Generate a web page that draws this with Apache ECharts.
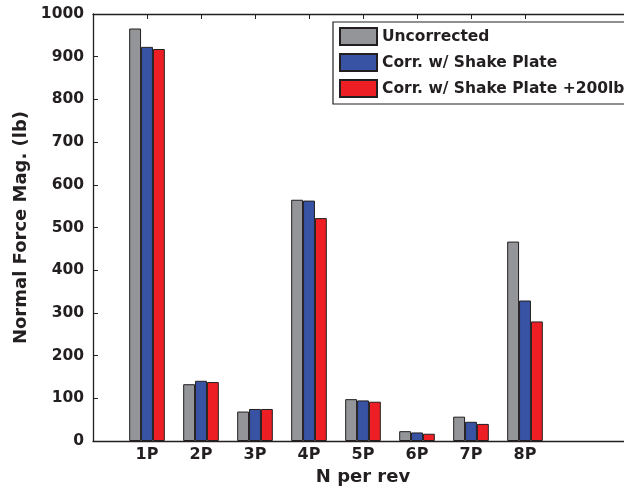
<!DOCTYPE html>
<html>
<head>
<meta charset="utf-8">
<script src="https://cdn.jsdelivr.net/npm/echarts@6/dist/echarts.min.js"></script>
<style>
html,body{margin:0;padding:0;background:#fff;}
#c{width:624px;height:489px;}
</style>
</head>
<body>
<div id="c"></div>
<script>
var categories = ['1P', '2P', '3P', '4P', '5P', '6P', '7P', '8P'];
var uncorrected = [966, 133, 69, 565, 98, 23, 57, 467];
var corrShake = [923, 141, 75, 563, 95, 20, 45, 329];
var corrShake200 = [918, 138, 75, 522, 92, 17, 40, 280];
var yTicks = [0, 100, 200, 300, 400, 500, 600, 700, 800, 900, 1000];

// x positions 0..10 (MATLAB xlim), bars at 1..8
var axisCats = [''].concat(categories).concat(['', '']);
function pad(arr) { return [null].concat(arr).concat([null, null]); }

var FONT = 'DejaVu Sans';
var TXT = '#231f20';

var chart = echarts.init(document.getElementById('c'), null, {renderer: 'canvas'});
var tickInt = function (idx) { return idx >= 1 && idx <= categories.length; };
var barStyle = function (c) { return {color: c, borderColor: '#231f20', borderWidth: 1}; };

chart.setOption({
  animation: false,
  backgroundColor: '#fff',
  grid: {left: 93, top: 14, right: -9, bottom: 48, containLabel: false, outerBoundsMode: 'none'},
  legend: {
    orient: 'vertical',
    left: 333, top: 22,
    padding: [5, 30, 6, 6],
    itemWidth: 37, itemHeight: 17, itemGap: 7,
    icon: 'rect',
    backgroundColor: '#fff',
    borderColor: TXT, borderWidth: 1.2, borderRadius: 0,
    textStyle: {fontFamily: FONT, fontWeight: 'bold', fontSize: 15.5, color: TXT},
    data: ['Uncorrected', 'Corr. w/ Shake Plate', 'Corr. w/ Shake Plate +200lb']
  },
  xAxis: [{
    type: 'category', position: 'bottom', data: axisCats, boundaryGap: false,
    name: 'N per rev', nameLocation: 'middle', nameGap: 25,
    nameTextStyle: {fontFamily: FONT, fontWeight: 'bold', fontSize: 18, color: TXT},
    axisLine: {lineStyle: {color: TXT, width: 1.3}},
    axisTick: {inside: true, length: 5, interval: tickInt, lineStyle: {color: TXT}},
    axisLabel: {interval: 0, margin: 6, fontFamily: FONT, fontWeight: 'bold', fontSize: 16, color: TXT},
    splitLine: {show: false}
  }, {
    type: 'category', position: 'top', data: axisCats, boundaryGap: false,
    axisLine: {lineStyle: {color: TXT, width: 1.3}},
    axisTick: {inside: true, length: 5, interval: tickInt, lineStyle: {color: TXT}},
    axisLabel: {show: false},
    splitLine: {show: false}
  }],
  yAxis: {
    type: 'value', min: yTicks[0], max: yTicks[yTicks.length - 1], interval: 100,
    name: 'Normal Force Mag. (lb)', nameLocation: 'middle', nameGap: 57,
    nameTextStyle: {fontFamily: FONT, fontWeight: 'bold', fontSize: 18, color: TXT},
    axisLine: {show: true, lineStyle: {color: TXT, width: 1.3}},
    axisTick: {show: true, inside: true, length: 5, lineStyle: {color: TXT}},
    axisLabel: {margin: 9, fontFamily: FONT, fontWeight: 'bold', fontSize: 15.5, color: TXT,
      formatter: function (v) { return String(v); }},
    splitLine: {show: false}
  },
  series: [
    {name: 'Uncorrected', type: 'bar', data: pad(uncorrected), barWidth: '22%', barGap: '0%', itemStyle: barStyle('#939598')},
    {name: 'Corr. w/ Shake Plate', type: 'bar', data: pad(corrShake), barWidth: '22%', barGap: '0%', itemStyle: barStyle('#3953a4')},
    {name: 'Corr. w/ Shake Plate +200lb', type: 'bar', data: pad(corrShake200), barWidth: '22%', barGap: '0%', itemStyle: barStyle('#ed1f24')}
  ]
});
</script>
</body>
</html>
